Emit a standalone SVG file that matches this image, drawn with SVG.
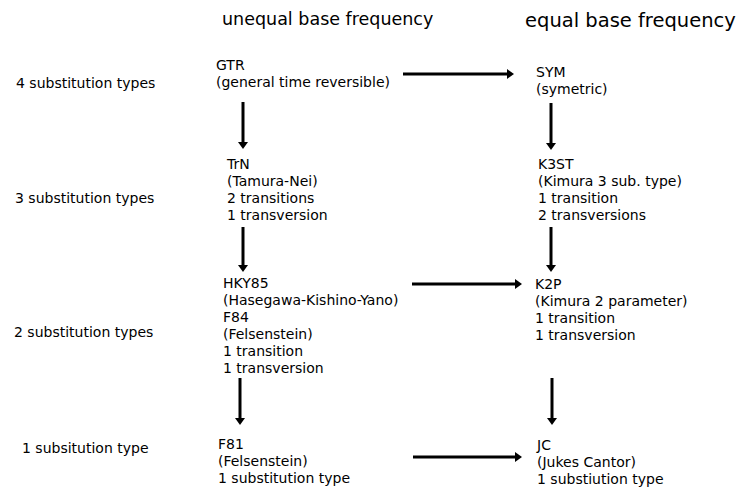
<svg xmlns="http://www.w3.org/2000/svg" width="742" height="490" viewBox="0 0 742 490">
<defs>
<style>
text{font-family:"DejaVu Sans",Verdana,sans-serif;font-size:14px;fill:#000}
.h1{font-size:17.5px}
.h2{font-size:19.5px}
.c line{stroke:#000;stroke-width:3;marker-end:url(#ah)}
</style>
<marker id="ah" markerUnits="userSpaceOnUse" markerWidth="12" markerHeight="12" refX="0" refY="5.5" orient="auto" overflow="visible">
<path d="M0,0.5 L7,5.5 L0,10.5 Z" fill="#000"/>
</marker>
</defs>
<rect width="742" height="490" fill="#fff"/>
<g id="headings">
<text class="h1" x="222" y="25">unequal base frequency</text>
<text class="h2" x="525" y="27">equal base frequency</text>
</g>
<g id="rows">
<text x="16" y="88">4 substitution types</text>
<text x="15" y="203">3 substitution types</text>
<text x="14" y="337">2 substitution types</text>
<text x="22" y="453">1 subsitution type</text>
</g>
<g id="GTR"><text x="216" y="70">GTR</text><text x="216" y="87">(general time reversible)</text></g>
<g id="SYM"><text x="536" y="77">SYM</text><text x="536" y="94">(symetric)</text></g>
<g id="TrN"><text x="227" y="169">TrN</text><text x="227" y="186">(Tamura-Nei)</text><text x="227" y="203">2 transitions</text><text x="227" y="220">1 transversion</text></g>
<g id="K3ST"><text x="538" y="169">K3ST</text><text x="538" y="186">(Kimura 3 sub. type)</text><text x="538" y="203">1 transition</text><text x="538" y="220">2 transversions</text></g>
<g id="HKY85"><text x="223" y="288">HKY85</text><text x="223" y="305">(Hasegawa-Kishino-Yano)</text><text x="223" y="322">F84</text><text x="223" y="339">(Felsenstein)</text><text x="223" y="356">1 transition</text><text x="223" y="373">1 transversion</text></g>
<g id="K2P"><text x="535" y="289">K2P</text><text x="535" y="306">(Kimura 2 parameter)</text><text x="535" y="323">1 transition</text><text x="535" y="340">1 transversion</text></g>
<g id="F81"><text x="218" y="449">F81</text><text x="218" y="466">(Felsenstein)</text><text x="218" y="483">1 substitution type</text></g>
<g id="JC"><text x="537" y="450">JC</text><text x="537" y="467">(Jukes Cantor)</text><text x="537" y="484">1 substiution type</text></g>
<g id="connectors" class="c">
<line x1="243" y1="102" x2="243" y2="142"/>
<line x1="403" y1="74" x2="507" y2="74"/>
<line x1="551" y1="103" x2="551" y2="143"/>
<line x1="243" y1="227" x2="243" y2="265"/>
<line x1="551" y1="227" x2="551" y2="265"/>
<line x1="412" y1="284" x2="515" y2="284"/>
<line x1="240" y1="378" x2="240" y2="418"/>
<line x1="552" y1="378" x2="552" y2="418"/>
<line x1="413" y1="457" x2="515" y2="457"/>
</g>
</svg>
